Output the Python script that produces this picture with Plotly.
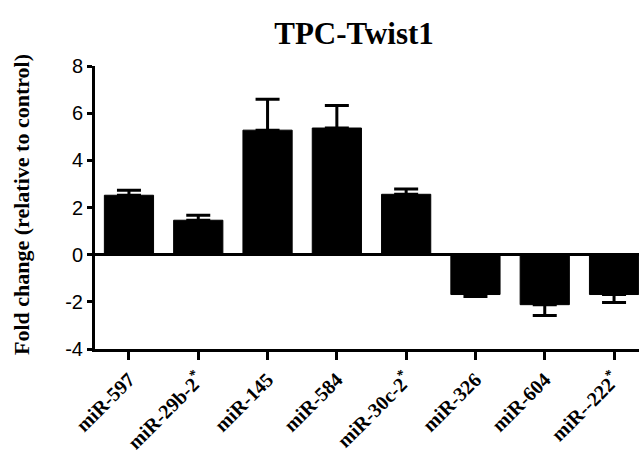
import plotly.graph_objects as go

# Fold change of each miRNA relative to control, with SEM
mirnas = ["miR-597", "miR-29b-2*", "miR-145", "miR-584", "miR-30c-2*",
          "miR-326", "miR-604", "miR--222*"]
fold_change = [2.52, 1.46, 5.28, 5.37, 2.56, -1.69, -2.12, -1.69]
sem = [0.21, 0.21, 1.31, 0.96, 0.22, 0.08, 0.46, 0.34]

y_ticks = [-4, -2, 0, 2, 4, 6, 8]

# Error bars point away from zero: upward for gains, downward for losses
err_up = [e if v >= 0 else 0 for v, e in zip(fold_change, sem)]
err_down = [0 if v >= 0 else e for v, e in zip(fold_change, sem)]

# Star-strand names get a small raised asterisk
tick_text = [m.replace("*", "<sup>*</sup>") for m in mirnas]

serif = "Liberation Serif, Times New Roman, serif"
sans = "Liberation Sans, Arial, sans-serif"

fig = go.Figure(
    go.Bar(
        x=mirnas,
        y=fold_change,
        width=0.71,
        marker=dict(color="black", line=dict(color="black", width=1)),
        error_y=dict(
            type="data",
            symmetric=False,
            array=err_up,
            arrayminus=err_down,
            color="black",
            thickness=3,
            width=12,
        ),
    )
)

fig.update_layout(
    width=639,
    height=454,
    margin=dict(l=95, r=0, t=66, b=105),
    paper_bgcolor="white",
    plot_bgcolor="white",
    showlegend=False,
    title=dict(
        text="<b>TPC-Twist1</b>",
        font=dict(family=serif, size=31, color="black"),
        x=354 / 639,
        xanchor="center",
        xref="container",
        y=1 - 33 / 454,
        yanchor="middle",
        yref="container",
    ),
    xaxis=dict(
        type="category",
        range=[-0.49, 7.36],
        automargin=False,
        tickvals=mirnas,
        ticktext=tick_text,
        showline=True,
        linecolor="black",
        linewidth=3,
        ticks="outside",
        ticklen=8,
        tickwidth=3,
        tickcolor="black",
        tickangle=-45,
        tickfont=dict(family=serif, size=20, color="black", weight="bold"),
        showgrid=False,
        zeroline=False,
    ),
    yaxis=dict(
        range=[-4, 8],
        automargin=False,
        tickvals=y_ticks,
        ticktext=[str(t) for t in y_ticks],
        showline=True,
        linecolor="black",
        linewidth=3,
        ticks="outside",
        ticklen=5,
        tickwidth=3,
        tickcolor="black",
        tickfont=dict(family=sans, size=20, color="black"),
        showgrid=False,
        zeroline=True,
        zerolinecolor="black",
        zerolinewidth=3,
    ),
    annotations=[
        dict(
            text="<b>Fold change (relative to control)</b>",
            textangle=-90,
            font=dict(family=serif, size=22, color="black"),
            xref="paper",
            yref="paper",
            x=(21 - 95) / 544,
            y=(349 - 205) / 283,
            xanchor="center",
            yanchor="middle",
            showarrow=False,
        )
    ],
)

fig.write_html("out.html")
